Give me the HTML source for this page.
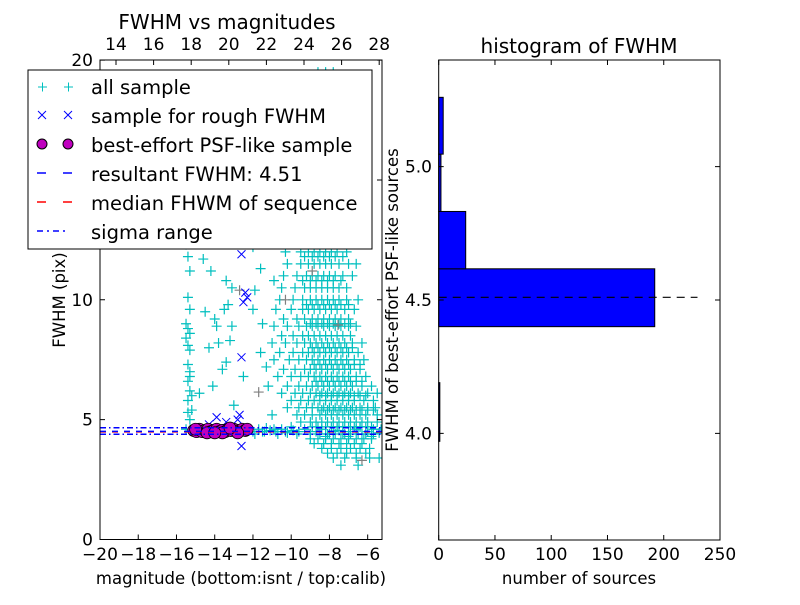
<!DOCTYPE html>
<html><head><meta charset="utf-8"><style>
body{margin:0;background:#fff;}
svg text{font-family:"DejaVu Sans","Liberation Sans",sans-serif;fill:#000;}
</style></head><body>
<svg id="c" width="800" height="600" viewBox="0 0 800 600" xmlns="http://www.w3.org/2000/svg">
<rect width="800" height="600" fill="#fff"/>
<g id="L"></g><g id="R"></g>
</svg>
<script>
// ---------- data: left scatter ----------
const xTicksBottom = [-20,-18,-16,-14,-12,-10,-8,-6];
const xTicksTop = [14,16,18,20,22,24,26,28];
const yTicksLeft = [0,5,10,15,20];
const columnPts = [[-15.5,12.3],[-15.4,11.8],[-15.3,11.2],[-15.5,9.0],[-15.4,8.8],[-15.3,8.6],[-15.5,8.4],[-15.4,8.1],[-15.3,7.9],[-15.4,7.3],[-15.3,7.0],[-15.4,6.6],[-15.3,6.2],[-15.4,5.8],[-15.2,5.4],[-15.3,5.0],[-15.4,10.1],[-15.3,9.6],[-15.2,6.0],[-15.3,12.8],[-15.4,5.3],[-15.3,6.8]];
const sparsePts = [[-14.5,9.5],[-14.0,9.2],[-13.9,8.9],[-13.5,9.6],[-13.3,9.8],[-13.2,8.3],[-13.1,8.9],[-13.8,8.2],[-14.3,8.0],[-13.4,7.4],[-13.6,7.1],[-14.1,6.4],[-14.8,6.1],[-13.0,5.6],[-14.6,11.7],[-14.2,11.2],[-13.4,10.8],[-13.1,10.5],[-11.9,10.4],[-12.0,9.6],[-14.9,12.4],[-13.9,12.6],[-12.0,12.2],[-11.5,9.0],[-11.6,7.8],[-12.5,6.8],[-11.2,6.4],[-11.0,5.2],[-11.3,7.2],[-10.9,10.8],[-11.6,11.3]];
const bandPts = [[-15.5,4.6],[-15.1,4.5],[-14.7,4.6],[-14.3,4.5],[-13.9,4.55],[-13.5,4.5],[-13.1,4.6],[-12.7,4.5],[-12.3,4.55],[-12.0,4.5],[-11.7,4.6],[-11.4,4.5],[-11.1,4.55],[-10.8,4.5],[-10.5,4.6],[-10.2,4.45],[-9.9,4.55],[-9.6,4.5],[-9.3,4.6],[-9.0,4.4],[-8.7,4.5],[-8.4,4.6],[-8.1,4.4],[-7.8,4.5],[-7.5,4.55],[-7.2,4.4],[-6.9,4.5],[-6.6,4.6],[-6.3,4.4],[-6.0,4.5],[-5.7,4.6],[-5.4,4.45],[-11.9,4.4],[-11.3,4.65],[-10.7,4.4],[-10.0,4.7],[-11.5,4.5],[-10.9,4.6],[-10.3,4.5],[-9.7,4.4],[-8.9,4.7],[-8.2,4.3],[-7.6,4.7],[-7.0,4.3],[-6.4,4.7],[-5.8,4.3],[-5.3,4.6]];
const clusterRows = [
 [19.5,[-8.6,-8.2,-7.8]],
 [19.0,[-8.8,-8.4,-8.0,-7.7]],
 [18.5,[-8.9,-8.5,-8.1,-7.6]],
 [18.0,[-9.0,-8.7,-8.3,-7.9,-7.5]],
 [17.5,[-9.0,-8.6,-8.2,-7.9,-7.5]],
 [17.0,[-9.1,-8.7,-8.4,-8.0,-7.4]],
 [16.5,[-9.2,-8.8,-8.4,-8.0,-7.6,-7.2]],
 [16.0,[-9.3,-8.9,-8.5,-8.2,-7.8,-7.3]],
 [15.5,[-9.4,-9.0,-8.6,-8.3,-8.0,-7.6,-7.2]],
 [15.0,[-9.5,-9.1,-8.8,-8.4,-8.1,-7.7,-7.1]],
 [14.5,[-9.6,-9.1,-8.7,-8.4,-8.1,-7.8,-7.4,-7.0]],
 [14.0,[-9.7,-9.2,-8.8,-8.5,-8.2,-7.9,-7.5]],
 [13.5,[-9.8,-9.3,-8.9,-8.6,-8.3,-8.0,-7.7,-7.3]],
 [13.0,[-9.9,-9.4,-9.0,-8.7,-8.4,-8.1,-7.8,-7.4,-6.9]],
 [12.5,[-10.0,-9.3,-9.0,-8.7,-8.4,-8.1,-7.8,-7.4,-6.9]],
 [12.0,[-10.3,-9.5,-9.1,-8.8,-8.5,-8.2,-7.9,-7.6,-7.1]],
 [11.5,[-10.2,-9.5,-9.1,-8.8,-8.5,-8.2,-7.9,-7.5,-7.0,-6.6]],
 [11.0,[-10.4,-9.7,-9.2,-8.9,-8.6,-8.3,-8.0,-7.7,-7.3,-6.8]],
 [10.5,[-10.5,-9.8,-9.3,-9.0,-8.7,-8.4,-8.1,-7.8,-7.5,-7.1]],
 [10.0,[-10.6,-9.9,-9.4,-9.0,-8.7,-8.4,-8.1,-7.8,-7.5,-7.1,-6.5]],
 [9.6,[-10.8,-10.0,-9.4,-9.1,-8.8,-8.5,-8.2,-7.9,-7.6,-7.2,-6.7]],
 [9.2,[-10.4,-9.7,-9.3,-8.9,-8.6,-8.3,-8.0,-7.7,-7.4,-7.0]],
 [8.9,[-10.9,-10.2,-9.6,-9.2,-8.9,-8.6,-8.3,-8.0,-7.7,-7.4,-7.0,-6.6]],
 [8.5,[-10.5,-9.9,-9.4,-9.1,-8.8,-8.5,-8.2,-7.9,-7.6,-7.3,-6.9]],
 [8.2,[-11.0,-10.3,-9.7,-9.3,-9.0,-8.7,-8.4,-8.1,-7.8,-7.5,-7.2,-6.8,-6.3]],
 [7.8,[-10.6,-9.9,-9.4,-9.1,-8.8,-8.5,-8.2,-7.9,-7.6,-7.3,-7.0,-6.5]],
 [7.5,[-10.9,-10.1,-9.6,-9.2,-8.9,-8.6,-8.3,-8.0,-7.7,-7.4,-7.1,-6.7,-6.2]],
 [7.1,[-10.4,-9.8,-9.3,-9.0,-8.7,-8.4,-8.1,-7.8,-7.5,-7.2,-6.9,-6.4]],
 [6.8,[-10.7,-10.0,-9.5,-9.1,-8.8,-8.5,-8.2,-7.9,-7.6,-7.3,-7.0,-6.6,-6.1]],
 [6.4,[-10.2,-9.6,-9.2,-8.9,-8.6,-8.3,-8.0,-7.7,-7.4,-7.1,-6.8,-6.3,-5.8]],
 [6.1,[-10.5,-9.8,-9.4,-9.0,-8.7,-8.4,-8.1,-7.8,-7.5,-7.2,-6.9,-6.5,-6.0,-5.5]],
 [5.8,[-10.0,-9.5,-9.1,-8.8,-8.5,-8.2,-7.9,-7.6,-7.3,-7.0,-6.7,-6.2,-5.7]],
 [5.5,[-10.2,-9.6,-9.2,-8.9,-8.6,-8.3,-8.0,-7.7,-7.4,-7.1,-6.8,-6.4,-6.0,-5.6]],
 [5.2,[-9.7,-9.3,-8.9,-8.5,-8.2,-7.9,-7.6,-7.3,-7.0,-6.7,-6.4,-6.1,-5.5]],
 [4.9,[-9.5,-9.0,-8.7,-8.4,-8.1,-7.8,-7.5,-7.2,-6.9,-6.6,-6.3,-6.0,-5.5]],
 [4.2,[-9.0,-8.6,-8.2,-7.8,-7.4,-7.0,-6.6,-6.2,-5.8]],
 [4.0,[-8.8,-8.3,-7.9,-7.5,-7.1,-6.7,-6.3]],
 [3.8,[-8.4,-7.9,-7.4,-6.9,-6.4,-5.9]],
 [3.4,[-7.8,-7.2,-6.6,-5.9,-5.4]],
 [3.1,[-7.4,-6.5]]
];
const coreRows = [
 [17.8,[-8.5,-8.1,-7.7]],
 [16.8,[-8.6,-8.2,-7.8]],
 [15.8,[-8.7,-8.4,-8.0,-7.6]],
 [14.8,[-8.9,-8.6,-8.2,-7.9]],
 [13.8,[-9.0,-8.7,-8.4,-8.1,-7.7]],
 [12.8,[-9.1,-8.8,-8.5,-8.2,-7.9,-7.6]],
 [11.8,[-9.3,-8.9,-8.6,-8.3,-8.0,-7.7,-7.3]],
 [10.8,[-9.4,-9.0,-8.7,-8.4,-8.1,-7.8,-7.4]],
 [9.8,[-9.2,-8.9,-8.6,-8.3,-8.0,-7.7,-7.4,-7.0]],
 [9.0,[-9.0,-8.7,-8.4,-8.1,-7.8,-7.5,-7.2,-6.9]],
 [8.0,[-8.9,-8.6,-8.3,-8.0,-7.7,-7.4,-7.1,-6.8]],
 [7.3,[-8.8,-8.5,-8.2,-7.9,-7.6,-7.3,-7.0,-6.7,-6.4]],
 [6.6,[-8.7,-8.4,-8.1,-7.8,-7.5,-7.2,-6.9,-6.6,-6.3]],
 [6.0,[-8.5,-8.2,-7.9,-7.6,-7.3,-7.0,-6.7,-6.4,-6.1]],
 [5.4,[-8.4,-8.1,-7.8,-7.5,-7.2,-6.9,-6.6,-6.3,-6.0,-5.7]],
 [4.7,[-8.6,-8.2,-7.9,-7.6,-7.3,-7.0,-6.7,-6.4,-6.1,-5.8]],
 [4.4,[-8.5,-8.0,-7.7,-7.3,-6.9,-6.5,-6.1,-5.7]],
 [3.6,[-8.1,-7.6,-7.1,-6.6,-6.1]]
];
const grayPts = [[-12.7,10.4],[-11.7,6.15],[-10.3,10.0],[-8.9,11.2],[-7.55,8.95],[-6.3,3.3]];
const roughPts = [[-12.6,11.9],[-12.4,10.3],[-12.3,10.1],[-12.5,9.9],[-12.6,7.6],[-13.9,5.1],[-12.7,5.2],[-12.6,3.9],[-13.4,4.9],[-14.3,4.8],[-12.8,5.0],[-14.6,4.6],[-13.1,4.5],[-12.4,4.6]];
const psfX = [-15.1,-14.95,-14.8,-14.65,-14.5,-14.35,-14.2,-14.05,-13.9,-13.75,-13.6,-13.45,-13.3,-13.15,-13.0,-12.85,-12.7,-12.55,-12.4,-12.3,-14.4,-13.6,-12.8,-15.0,-14.0,-13.2];
const psfY = [4.55,4.5,4.6,4.5,4.55,4.6,4.5,4.55,4.6,4.5,4.55,4.5,4.6,4.55,4.6,4.5,4.55,4.6,4.55,4.6,4.45,4.45,4.45,4.6,4.45,4.65];
const fwhmResult = 4.51, fwhmMedian = 4.49, sigmaLo = 4.39, sigmaHi = 4.66;
// ---------- data: histogram ----------
const binEdges = [3.97,4.19,4.40,4.617,4.832,5.047,5.26];
const binCounts = [1,0,192,24,2,4];
const yTicksRight = [4.0,4.5,5.0];
const xTicksRight = [0,50,100,150,200,250];

const NS="http://www.w3.org/2000/svg";
function mk(p,t,a){const e=document.createElementNS(NS,t);for(const k in a)e.setAttribute(k,a[k]);p.appendChild(e);return e;}
const L=document.getElementById('L'), R=document.getElementById('R');
const lx0=100,lx1=382,ly0=60,ly1=539.5;
const sx=m=>lx0+(m+20)*19.12, sy=f=>ly1-f*23.97;
const defs=mk(L,'defs',{});const cp=mk(defs,'clipPath',{id:'clipL'});mk(cp,'rect',{x:lx0,y:ly0,width:lx1-lx0,height:ly1-ly0});
const ax=mk(L,'g',{'clip-path':'url(#clipL)'});
function plus(g,m,f,col){const x=sx(m),y=sy(f);return mk(g,'path',{d:`M${x-5},${y}H${x+5}M${x},${y-5}V${y+5}`,stroke:col,'stroke-width':1.2});}
const gAll=mk(ax,'g',{});


for(const r of clusterRows){for(const m of r[1]){plus(gAll,m,r[0],'#00bfbf');}}
for(const r of coreRows){for(const m of r[1]){plus(gAll,m,r[0],'#00bfbf');}}
for(const p of columnPts)plus(gAll,p[0],p[1],'#00bfbf');
for(const p of sparsePts)plus(gAll,p[0],p[1],'#00bfbf');
for(const p of bandPts)plus(gAll,p[0],p[1],'#00bfbf');
const gGray=mk(ax,'g',{});


for(const p of grayPts)plus(gGray,p[0],p[1],'#808080');
const gRough=mk(ax,'g',{});


for(const p of roughPts){const x=sx(p[0]),y=sy(p[1]);mk(gRough,'path',{d:`M${x-4},${y-4}L${x+4},${y+4}M${x-4},${y+4}L${x+4},${y-4}`,stroke:'#0000ff','stroke-width':1});}
const gPsf=mk(ax,'g',{});


for(let i=0;i<psfX.length;i++){mk(gPsf,'circle',{cx:sx(psfX[i]),cy:sy(psfY[i]),r:6,fill:'#bf00bf',stroke:'#000','stroke-width':0.8});}
function hline(v,col,dash,name){const l=mk(ax,'line',{x1:lx0,x2:lx1,y1:sy(v),y2:sy(v),stroke:col,'stroke-width':1.5,'stroke-dasharray':dash});}
hline(sigmaLo,'#0000ff','6,3,1.5,3','sigma-low-line');
hline(sigmaHi,'#0000ff','6,3,1.5,3','sigma-high-line');
hline(fwhmMedian,'#ff0000','6,6','median-fwhm-line');
hline(fwhmResult,'#0000ff','6,6','resultant-fwhm-line');
mk(L,'rect',{x:lx0,y:ly0,width:lx1-lx0,height:ly1-ly0,fill:'none',stroke:'#000','stroke-width':1});
for(const t of xTicksBottom){const x=sx(t);mk(L,'path',{d:`M${x},${ly1}v-5`,stroke:'#000'});const tx=mk(L,'text',{x:x,y:560,'font-size':17,'text-anchor':'middle'});tx.textContent=(t<0?'\u2212'+(-t):t);}
for(const t of xTicksTop){const x=116+(t-14)*18.8;mk(L,'path',{d:`M${x},${ly0}v5`,stroke:'#000'});const tx=mk(L,'text',{x:x,y:50,'font-size':17,'text-anchor':'middle'});tx.textContent=t;}
for(const t of yTicksLeft){const y=sy(t);mk(L,'path',{d:`M${lx0},${y}h5M${lx1},${y}h-5`,stroke:'#000'});const tx=mk(L,'text',{x:93,y:y+6,'font-size':17,'text-anchor':'end'});tx.textContent=t;}
const rx0=438.7,rx1=720,ry0=60,ry1=540;
const hx=c=>rx0+c/250*(rx1-rx0), hy=v=>ry1-(v-3.6)/1.8*(ry1-ry0);
for(let i=0;i<binCounts.length;i++){if(binCounts[i]<=0)continue;const b=mk(R,'rect',{x:rx0,y:hy(binEdges[i+1]),width:hx(binCounts[i])-rx0,height:hy(binEdges[i])-hy(binEdges[i+1]),fill:'#0000ff',stroke:'#000','stroke-width':1});

}
const dl=mk(R,'line',{x1:rx0,x2:hx(230),y1:hy(fwhmResult),y2:hy(fwhmResult),stroke:'#000','stroke-width':1.2,'stroke-dasharray':'8,6'});


mk(R,'rect',{x:rx0,y:ry0,width:rx1-rx0,height:ry1-ry0,fill:'none',stroke:'#000'});
for(const t of xTicksRight){const x=hx(t);mk(R,'path',{d:`M${x},${ry1}v-5M${x},${ry0}v5`,stroke:'#000'});const tx=mk(R,'text',{x:x,y:560,'font-size':17,'text-anchor':'middle'});tx.textContent=t;}
for(const t of yTicksRight){const y=hy(t);mk(R,'path',{d:`M${rx0},${y}h5M${rx1},${y}h-5`,stroke:'#000'});const tx=mk(R,'text',{x:432,y:y+6,'font-size':17,'text-anchor':'end'});tx.textContent=t.toFixed(1);}
</script>
<svg style="position:absolute;left:0;top:0" width="800" height="600" xmlns="http://www.w3.org/2000/svg">
<g font-family="DejaVu Sans, Liberation Sans, sans-serif">
<text x="227" y="29" font-size="20" text-anchor="middle">FWHM vs magnitudes</text>
<text x="579" y="53" font-size="20" text-anchor="middle">histogram of FWHM</text>
<text x="241" y="584" font-size="16.5" text-anchor="middle">magnitude (bottom:isnt / top:calib)</text>
<text x="579" y="584" font-size="16.5" text-anchor="middle">number of sources</text>
<text transform="translate(65,300) rotate(-90)" font-size="16.5" text-anchor="middle">FWHM (pix)</text>
<text transform="translate(398,300) rotate(-90)" font-size="16.5" text-anchor="middle">FWHM of best-effort PSF-like sources</text>
<g>
<rect x="28" y="70" width="344" height="179" fill="#fff" stroke="#000" stroke-width="1"/>
<path d="M38,87h9M42.5,82.5v9M64,87h9M68.5,82.5v9" stroke="#00bfbf"/>
<text x="91" y="94" font-size="19.5">all sample</text>
<path d="M38,111l8,8M38,119l8,-8M64,111l8,8M64,119l8,-8" stroke="#0000ff"/>
<text x="91" y="123" font-size="19.5">sample for rough FWHM</text>
<circle cx="42" cy="144" r="5" fill="#bf00bf" stroke="#000"/><circle cx="68" cy="144" r="5" fill="#bf00bf" stroke="#000"/>
<text x="91" y="152" font-size="19.5">best-effort PSF-like sample</text>
<path d="M37,173h9M63,173h9" stroke="#0000ff" stroke-width="1.5"/>
<text x="91" y="181" font-size="19.5">resultant FWHM: 4.51</text>
<path d="M37,202h9M63,202h9" stroke="#ff0000" stroke-width="1.5"/>
<text x="91" y="210" font-size="19.5">median FHWM of sequence</text>
<path d="M37,231h6M47,231h2M53,231h6M63,231h2" stroke="#0000ff" stroke-width="1.5"/>
<text x="91" y="239" font-size="19.5">sigma range</text>
</g>
</g>
</svg>
</body></html>
